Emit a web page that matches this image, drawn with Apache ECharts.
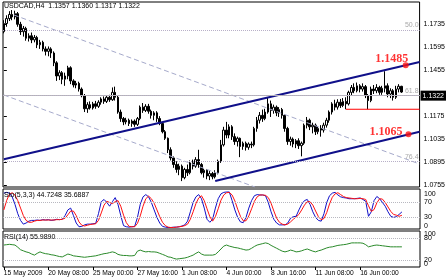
<!DOCTYPE html>
<html><head><meta charset="utf-8">
<script src="https://cdn.jsdelivr.net/npm/echarts@6/dist/echarts.min.js"></script>
<style>html,body{margin:0;padding:0;background:#fff}#c{width:448px;height:280px}</style>
</head><body><div id="c"></div>
<script>
const symbolTitle = 'USDCAD,H4  1.1357 1.1360 1.1317 1.1322';
const stochTitle = 'Sto(5,3,3) 44.7248 35.6887';
const rsiTitle = 'RSI(14) 55.9890';
const timeTickBars = [0,16,32,48,64,80,96,112,128];
const timeTickLabels = ['15 May 2009','20 May 08:00','25 May 00:00','27 May 16:00','1 Jun 08:00','4 Jun 00:00','8 Jun 16:00','11 Jun 08:00','16 Jun 00:00'];
const priceTicks = [1.0755,1.0895,1.1035,1.1175,1.1455,1.1595,1.1735];
const stochTicks = [0,30,70,100];
const rsiTicks = [0,100];
const stochLevels = [30,70];
const rsiLevels = [20,80];
// [open, close, low, high]
const candles = [
[1.1690,1.1740,1.1680,1.1760],[1.1740,1.1770,1.1720,1.1790],[1.1770,1.1795,1.1755,1.1815],[1.1795,1.1780,1.1760,1.1822],
[1.1780,1.1800,1.1765,1.1818],[1.1800,1.1735,1.1720,1.1810],[1.1735,1.1690,1.1670,1.1750],[1.1690,1.1710,1.1660,1.1725],
[1.1710,1.1650,1.1635,1.1720],[1.1650,1.1665,1.1630,1.1680],[1.1665,1.1640,1.1620,1.1685],[1.1640,1.1655,1.1625,1.1670],
[1.1655,1.1610,1.1590,1.1665],[1.1610,1.1625,1.1585,1.1640],[1.1625,1.1585,1.1570,1.1635],[1.1585,1.1570,1.1545,1.1600],
[1.1570,1.1585,1.1540,1.1600],[1.1585,1.1560,1.1530,1.1595],[1.1560,1.1500,1.1480,1.1570],[1.1500,1.1420,1.1390,1.1510],
[1.1420,1.1440,1.1395,1.1455],[1.1440,1.1400,1.1370,1.1450],[1.1400,1.1420,1.1360,1.1440],[1.1420,1.1470,1.1400,1.1482],
[1.1470,1.1390,1.1370,1.1479],[1.1390,1.1365,1.1350,1.1400],[1.1365,1.1375,1.1345,1.1390],[1.1375,1.1340,1.1325,1.1385],
[1.1340,1.1300,1.1290,1.1350],[1.1300,1.1220,1.1200,1.1310],[1.1220,1.1245,1.1195,1.1260],[1.1245,1.1225,1.1215,1.1265],
[1.1225,1.1250,1.1215,1.1262],[1.1250,1.1235,1.1220,1.1268],[1.1235,1.1260,1.1225,1.1272],[1.1260,1.1280,1.1245,1.1290],
[1.1280,1.1265,1.1250,1.1295],[1.1265,1.1290,1.1255,1.1300],[1.1290,1.1275,1.1262,1.1305],[1.1275,1.1320,1.1268,1.1350],
[1.1320,1.1290,1.1270,1.1355],[1.1290,1.1200,1.1190,1.1300],[1.1200,1.1160,1.1140,1.1215],[1.1160,1.1140,1.1120,1.1170],
[1.1140,1.1150,1.1125,1.1165],[1.1150,1.1130,1.1115,1.1160],[1.1130,1.1145,1.1110,1.1155],[1.1145,1.1125,1.1110,1.1155],
[1.1125,1.1160,1.1115,1.1170],[1.1160,1.1230,1.1150,1.1240],[1.1230,1.1210,1.1195,1.1255],[1.1210,1.1235,1.1200,1.1248],
[1.1235,1.1205,1.1190,1.1250],[1.1205,1.1180,1.1160,1.1215],[1.1180,1.1195,1.1150,1.1205],[1.1195,1.1160,1.1140,1.1205],
[1.1160,1.1130,1.1120,1.1175],[1.1130,1.1080,1.1070,1.1140],[1.1080,1.1040,1.1030,1.1090],[1.1040,1.0970,1.0950,1.1045],
[1.0970,1.0920,1.0905,1.0985],[1.0920,1.0880,1.0860,1.0930],[1.0880,1.0850,1.0830,1.0900],[1.0850,1.0870,1.0815,1.0885],
[1.0870,1.0800,1.0779,1.0880],[1.0800,1.0850,1.0790,1.0860],[1.0850,1.0830,1.0810,1.0880],[1.0830,1.0890,1.0820,1.0905],
[1.0890,1.0870,1.0850,1.0910],[1.0870,1.0910,1.0860,1.0925],[1.0910,1.0880,1.0860,1.0970],[1.0880,1.0830,1.0820,1.0890],
[1.0830,1.0845,1.0800,1.0855],[1.0845,1.0810,1.0790,1.0850],[1.0810,1.0825,1.0785,1.0840],[1.0825,1.0805,1.0790,1.0835],
[1.0805,1.0830,1.0795,1.0845],[1.0830,1.0900,1.0820,1.0910],[1.0900,1.1000,1.0890,1.1030],[1.1000,1.1090,1.0990,1.1110],
[1.1090,1.1060,1.1040,1.1140],[1.1060,1.1110,1.1040,1.1125],[1.1110,1.1050,1.1030,1.1120],[1.1050,1.1020,1.1000,1.1070],
[1.1020,1.1040,1.0990,1.1050],[1.1040,1.0990,1.0925,1.1045],[1.0990,1.1010,1.0970,1.1020],[1.1010,1.0985,1.0965,1.1020],
[1.0985,1.1005,1.0970,1.1015],[1.1005,1.1000,1.0980,1.1020],[1.1000,1.1100,1.0990,1.1110],[1.1100,1.1150,1.1080,1.1170],
[1.1150,1.1180,1.1130,1.1200],[1.1180,1.1160,1.1140,1.1215],[1.1160,1.1200,1.1150,1.1220],[1.1200,1.1250,1.1190,1.1291],
[1.1250,1.1210,1.1170,1.1270],[1.1210,1.1230,1.1190,1.1245],[1.1230,1.1195,1.1175,1.1240],[1.1195,1.1215,1.1170,1.1230],
[1.1215,1.1180,1.1160,1.1225],[1.1180,1.1100,1.1080,1.1185],[1.1100,1.1020,1.1000,1.1110],[1.1020,1.1035,1.0995,1.1050],
[1.1035,1.1005,1.0985,1.1045],[1.1005,1.1025,1.0980,1.1035],[1.1025,1.0995,1.0975,1.1040],[1.0995,1.1010,1.0930,1.1020],
[1.1010,1.1120,1.1000,1.1130],[1.1120,1.1150,1.1100,1.1170],[1.1150,1.1110,1.1090,1.1160],[1.1110,1.1120,1.1070,1.1135],
[1.1120,1.1080,1.1060,1.1130],[1.1080,1.1100,1.1065,1.1115],[1.1100,1.1090,1.1050,1.1120],[1.1090,1.1120,1.1075,1.1135],
[1.1120,1.1150,1.1105,1.1165],[1.1150,1.1200,1.1135,1.1210],[1.1200,1.1250,1.1185,1.1260],[1.1250,1.1230,1.1210,1.1275],
[1.1230,1.1260,1.1215,1.1278],[1.1260,1.1240,1.1225,1.1280],[1.1240,1.1265,1.1230,1.1285],[1.1265,1.1250,1.1217,1.1290],
[1.1250,1.1320,1.1240,1.1330],[1.1320,1.1350,1.1300,1.1365],[1.1350,1.1330,1.1315,1.1375],[1.1330,1.1360,1.1320,1.1380],
[1.1360,1.1340,1.1320,1.1370],[1.1340,1.1355,1.1325,1.1375],[1.1355,1.1300,1.1285,1.1365],[1.1300,1.1270,1.1217,1.1310],
[1.1270,1.1340,1.1260,1.1355],[1.1340,1.1330,1.1310,1.1365],[1.1330,1.1350,1.1315,1.1370],[1.1350,1.1320,1.1305,1.1360],
[1.1320,1.1345,1.1305,1.1360],[1.1345,1.1360,1.1320,1.1449],[1.1360,1.1310,1.1290,1.1375],[1.1310,1.1330,1.1285,1.1345],
[1.1330,1.1290,1.1270,1.1340],[1.1290,1.1340,1.1280,1.1360],[1.1340,1.1357,1.1320,1.1370],[1.1357,1.1322,1.1317,1.1360]
];
const stochK = [95,97,95,85,65,40,22,12,15,20,22,22,23,22,24,23,24,22,23,25,
24,25,35,50,55,35,15,5,6,10,12,12,13,14,40,72,78,70,60,72,
83,65,35,8,5,4,5,6,30,65,85,91,85,70,50,30,15,6,4,3,
3,4,4,5,7,10,20,45,70,85,91,80,55,25,17,25,55,80,93,97,
98,98,75,50,30,18,16,30,55,75,88,91,90,90,88,70,45,25,15,10,
10,10,15,28,32,33,50,65,75,78,65,45,30,22,20,40,70,88,95,97,
90,85,83,82,80,80,80,81,82,78,73,33,45,75,86,80,70,60,45,33,
30,32,38,44.72];
const stochD = [50,75,92,96,90,75,55,35,22,17,17,20,22,22,23,23,23,23,23,24,
24,25,28,37,47,47,35,18,9,7,9,11,12,13,22,42,63,73,70,67,
72,75,60,36,16,6,5,5,14,34,60,80,87,80,68,50,32,17,8,4,
3,3,4,5,6,8,12,25,45,67,82,88,75,53,32,20,32,53,76,90,
96,97,90,74,52,33,21,21,34,53,73,85,90,90,89,83,68,47,28,17,
12,10,12,18,25,31,38,50,63,72,72,63,47,32,24,27,43,66,84,93,
96,91,86,83,82,81,80,80,81,80,78,61,46,51,69,80,79,70,58,46,
38,36,33,35.69];
const rsi = [61,62,63,62,61,55,48,45,42,40,36,33,38,42,39,37,36,34,33,31,
29,28,32,36,34,31,30,29,28,27,28,29,30,31,33,35,37,38,40,42,
40,35,33,32,32,31,31,32,44,47,44,42,43,42,42,41,38,35,32,28,
27,24,22,23,24,25,27,30,33,38,42,36,33,33,33,33,35,42,50,58,
61,58,56,54,53,51,49,47,48,52,57,61,63,65,67,65,60,56,52,48,
44,42,44,47,45,42,43,45,48,50,47,44,42,45,47,50,53,55,56,58,
60,61,62,63,65,67,67,67,67,66,62,56,58,60,61,60,59,58,57,56,
56,56,56,55.99];
const lastPrice = 1.1322;
const fibLevels = ['50.0','61.8','76.4'];
const fibPrices = [1.1652,1.1334,1.0941];
const upperChannel = [[0,1.0912],[149.5,1.1505]];
const lowerChannel = [[76,1.0780],[149.5,1.1080]];
const fanLineA = [[3.6,1.1792],[149.5,1.0883]];
const fanLineB = [[0,1.1304],[90.3,1.0743]];
const supportLine = [[123,1.1217],[149.5,1.1217]];
const targetBars = [144.5,145.5];
const targetPrices = [1.1485,1.1065];

const FONT = 'Liberation Sans';
const X_MIN = -0.3, X_MAX = 149.5;
const chart = echarts.init(document.getElementById('c'), null, {renderer:'canvas'});
const gridStyle = {show:true, borderColor:'#000', borderWidth:1, backgroundColor:'#fff'};
const hiddenX = i => ({gridIndex:i, type:'value', min:X_MIN, max:X_MAX, show:false});
const edgeRich = {t:{padding:[6,0,0,0], fontSize:7, fontFamily:FONT, color:'#000'}, b:{padding:[0,0,6,0], fontSize:7, fontFamily:FONT, color:'#000'}};
const edgeFmt = (top, bottom) => v => v === top ? '{t|' + v + '}' : (v === bottom ? '{b|' + v + '}' : String(v));
const levelLine = (vals, withLabel) => ({silent:true, symbol:'none', animation:false,
  lineStyle:{color:'#b8b8c0', type:'dotted', width:1},
  label:{show:!!withLabel, position:'end', distance:4, formatter:p => String(p.value), color:'#000', fontSize:7, fontFamily:FONT},
  data: vals.map(v => ({yAxis:v}))});

const option = {
  animation:false,
  backgroundColor:'#fff',
  textStyle:{fontFamily:FONT},
  title:[
    {text:symbolTitle, left:4, top:3, padding:0, textStyle:{fontSize:7, fontWeight:'normal', color:'#000', fontFamily:FONT}},
    {text:stochTitle, left:4, top:192, padding:0, textStyle:{fontSize:7, fontWeight:'normal', color:'#000', fontFamily:FONT}},
    {text:rsiTitle, left:4, top:234, padding:0, textStyle:{fontSize:7, fontWeight:'normal', color:'#000', fontFamily:FONT}}
  ],
  grid:[
    Object.assign({left:3, top:2, width:417, height:185}, gridStyle),
    Object.assign({left:3, top:189, width:417, height:40}, gridStyle),
    Object.assign({left:3, top:231, width:417, height:36}, gridStyle)
  ],
  xAxis:[
    hiddenX(0), hiddenX(1),
    {gridIndex:2, type:'value', min:X_MIN, max:X_MAX, axisLine:{show:false}, splitLine:{show:false},
     axisTick:{show:true, customValues:timeTickBars, length:3, lineStyle:{color:'#000'}},
     axisLabel:{customValues:timeTickBars, formatter:v => timeTickLabels[timeTickBars.indexOf(v)] || '',
       align:'left', margin:3, fontSize:6.7, color:'#000', fontFamily:FONT}}
  ],
  yAxis:[
    {gridIndex:0, type:'value', position:'right', min:1.0743, max:1.1871, splitLine:{show:false}, axisLine:{show:false},
     axisTick:{show:true, customValues:priceTicks, length:3, lineStyle:{color:'#000'}},
     axisLabel:{customValues:priceTicks, formatter:v => v.toFixed(4), margin:4, fontSize:7, color:'#000', fontFamily:FONT}},
    {gridIndex:1, type:'value', position:'right', min:-1, max:106, splitLine:{show:false}, axisLine:{show:false},
     axisTick:{show:false},
     axisLabel:{customValues:stochTicks, formatter:edgeFmt(100,0), rich:edgeRich, margin:4, fontSize:7, color:'#000', fontFamily:FONT,
       showMinLabel:true, showMaxLabel:true}},
    {gridIndex:2, type:'value', position:'right', min:0, max:100, splitLine:{show:false}, axisLine:{show:false},
     axisTick:{show:false},
     axisLabel:{customValues:rsiTicks, formatter:edgeFmt(100,0), rich:edgeRich, margin:4, fontSize:7, color:'#000', fontFamily:FONT,
       showMinLabel:true, showMaxLabel:true}}
  ],
  series:[
    {type:'candlestick', xAxisIndex:0, yAxisIndex:0, barWidth:2,
     data:candles.map((c,i) => [i, c[0], c[1], c[2], c[3]]), encode:{x:0, y:[1,2,3,4]},
     itemStyle:{color:'#ffffff', color0:'#000000', borderColor:'#000000', borderColor0:'#000000', borderWidth:1},
     markLine:{silent:true, symbol:'none', animation:false,
       data:[
         {yAxis:lastPrice, lineStyle:{color:'#b4b4b4', type:'solid', width:1},
          label:{show:true, position:'end', formatter:lastPrice.toFixed(4), backgroundColor:'#000', color:'#fff',
                 padding:[2,2,1,2], distance:1, fontSize:7, fontFamily:FONT}}
       ].concat(fibPrices.map((p,k) => ({yAxis:p, lineStyle:{color:'#b8b0c8', type:'dotted', width:1},
          label:{show:true, position:'insideEndTop', formatter:fibLevels[k], color:'#a8a8a8', fontSize:7, distance:1, fontFamily:FONT}})))
     }},
    {type:'line', xAxisIndex:0, yAxisIndex:0, data:fanLineA, showSymbol:false, z:3,
     lineStyle:{color:'#a6aacb', width:1, type:[5,3]}},
    {type:'line', xAxisIndex:0, yAxisIndex:0, data:fanLineB, showSymbol:false, z:3,
     lineStyle:{color:'#a6aacb', width:1, type:[5,3]}},
    {type:'line', xAxisIndex:0, yAxisIndex:0, data:upperChannel, showSymbol:false, z:4,
     lineStyle:{color:'#10108a', width:2}},
    {type:'line', xAxisIndex:0, yAxisIndex:0, data:lowerChannel, showSymbol:false, z:4,
     lineStyle:{color:'#10108a', width:2}},
    {type:'line', xAxisIndex:0, yAxisIndex:0, data:supportLine, showSymbol:false, z:4,
     lineStyle:{color:'#ff0000', width:1}},
    {type:'scatter', xAxisIndex:0, yAxisIndex:0, z:5, symbolSize:6, itemStyle:{color:'#ff1010'},
     data:[
       {value:[targetBars[0], targetPrices[0]], label:{position:'top', distance:1, offset:[-14,4]}},
       {value:[targetBars[1], targetPrices[1]], label:{position:'left', distance:3, offset:[0,-2]}}
     ],
     label:{show:true, formatter:p => p.value[1].toFixed(4), color:'#ff0000', fontSize:12, fontWeight:'bold', fontFamily:'Liberation Serif'}},
    {type:'line', xAxisIndex:1, yAxisIndex:1, data:stochK.map((v,i) => [i,v]), showSymbol:false,
     lineStyle:{color:'#1010c8', width:1}, markLine:levelLine(stochLevels, false)},
    {type:'line', xAxisIndex:1, yAxisIndex:1, data:stochD.map((v,i) => [i,v]), showSymbol:false,
     lineStyle:{color:'#ff1010', width:1}},
    {type:'line', xAxisIndex:2, yAxisIndex:2, data:rsi.map((v,i) => [i,v]), showSymbol:false,
     lineStyle:{color:'#2a8a2a', width:1}, markLine:levelLine(rsiLevels, true)}
  ]
};
chart.setOption(option);
</script>
</body></html>
